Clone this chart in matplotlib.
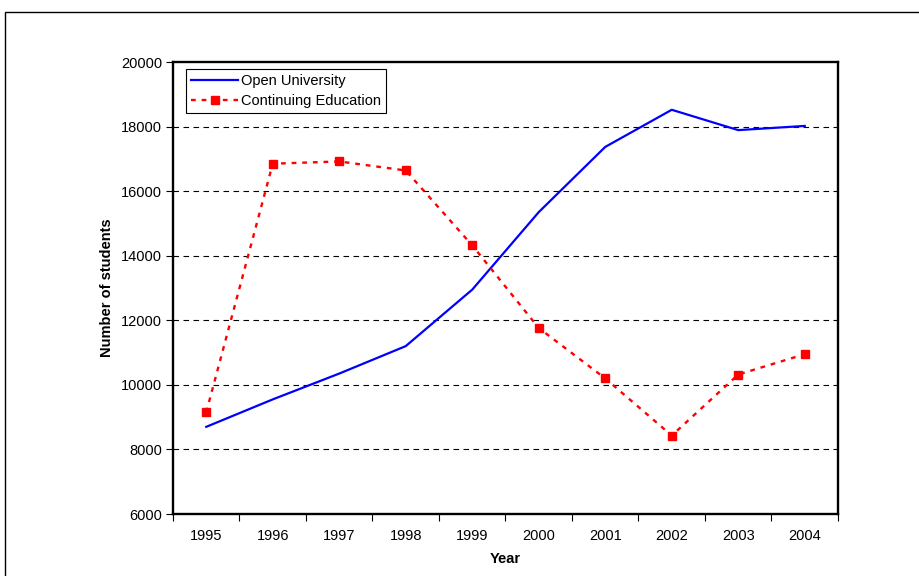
import matplotlib
matplotlib.use("Agg")
import matplotlib.pyplot as plt
from matplotlib.patches import Rectangle
import numpy as np

plt.rcParams['font.family'] = ['Liberation Sans', 'DejaVu Sans']

years = ['1995', '1996', '1997', '1998', '1999', '2000', '2001', '2002', '2003', '2004']
open_university = [8700, 9550, 10350, 11200, 12950, 15350, 17370, 18520, 17890, 18020]
continuing_education = [9150, 16850, 16920, 16640, 14320, 11760, 10200, 8430, 10320, 10950]

FS = 10.5

fig = plt.figure(figsize=(9.2, 5.76), dpi=100)
fig.patches.append(Rectangle((5/920, -0.2), 1.2, 1.2 - 12/576, transform=fig.transFigure,
                             fill=False, edgecolor='black', linewidth=1.0))
ax = fig.add_axes([173/920, 1 - 514/576, 665/920, 452/576])

x = np.arange(len(years)) + 0.5
ax.plot(x, open_university, color='#0000FF', linewidth=1.6, label='Open University')
ax.plot(x, continuing_education, color='#FF0000', linewidth=1.7, linestyle=(0, (2, 2.5)),
        marker='s', markersize=6, label='Continuing Education')

ax.set_xlim(0, len(years))
ax.set_ylim(6000, 20000)
ax.set_yticks(np.arange(6000, 20001, 2000))
ax.set_yticklabels([str(v) for v in range(6000, 20001, 2000)], fontsize=FS)
ax.set_xticks(np.arange(len(years) + 1))
ax.set_xticklabels([])
ax.set_xticks(x, minor=True)
ax.set_xticklabels(years, minor=True, fontsize=FS)
ax.tick_params(axis='x', which='minor', length=0, pad=11)
ax.tick_params(axis='x', which='major', length=5, width=0.8, direction='out')
ax.tick_params(axis='y', length=5, width=0.8, direction='out', pad=3)

for v in range(8000, 20000, 2000):
    ax.axhline(v, color='black', linewidth=0.8, linestyle=(0, (5, 4)), zorder=0)

for s in ax.spines.values():
    s.set_linewidth(1.7)
    s.set_color('black')

ax.set_xlabel('Year', fontsize=FS, fontweight='bold', labelpad=6)
ax.set_ylabel('Number of students', fontsize=FS, fontweight='bold', labelpad=5)

leg = ax.legend(loc='upper left', bbox_to_anchor=(0.02, 0.985), fontsize=FS, frameon=True,
                fancybox=False, edgecolor='black', framealpha=1, borderpad=0.35,
                handlelength=3.2, handletextpad=0.2, labelspacing=0.4, borderaxespad=0)
leg.get_frame().set_linewidth(0.8)

fig.savefig('out.png', dpi=100)
